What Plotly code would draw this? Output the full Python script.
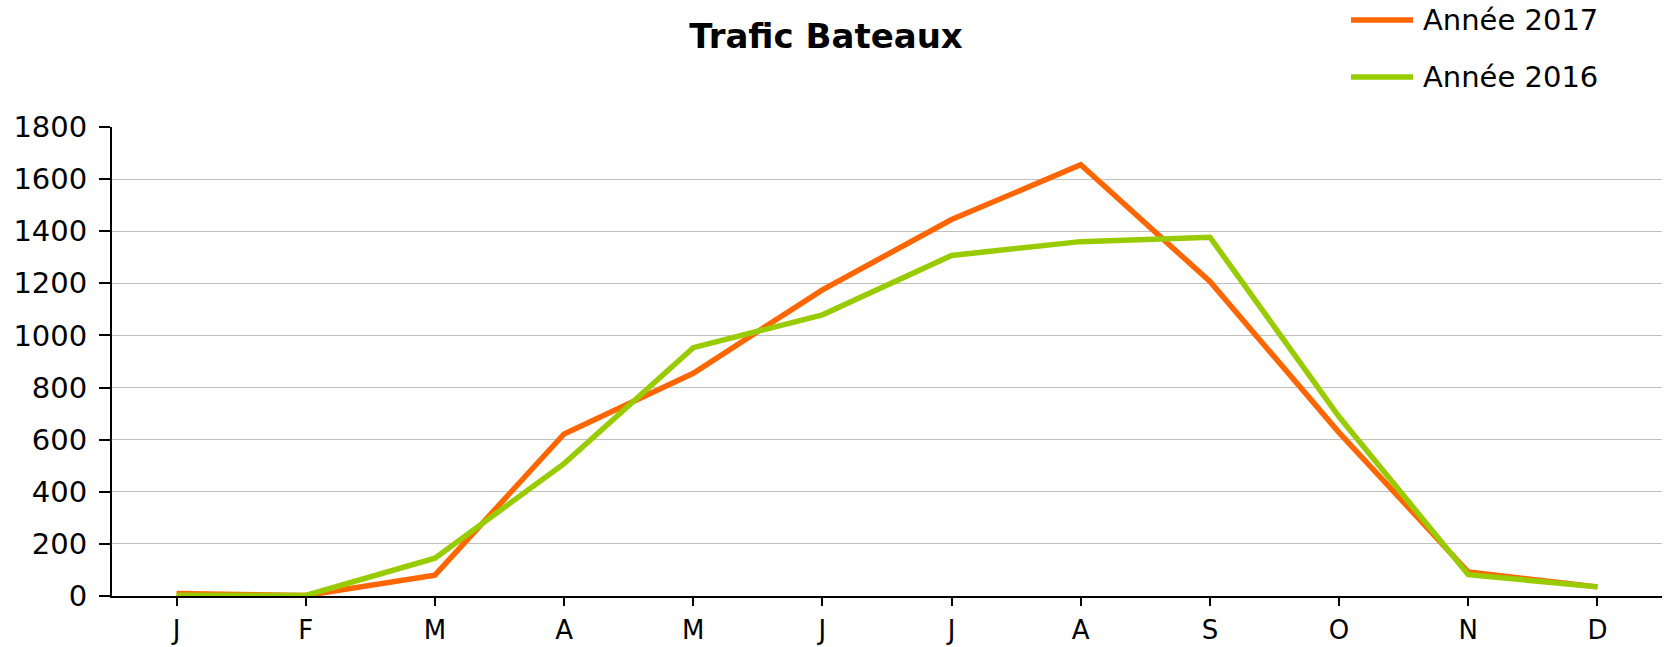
import plotly.graph_objects as go

months = ["J", "F", "M", "A", "M", "J", "J", "A", "S", "O", "N", "D"]
x_idx = list(range(12))
trafic_2017 = [10, 2, 80, 622, 855, 1175, 1445, 1655, 1207, 627, 92, 35]
trafic_2016 = [3, 2, 145, 508, 953, 1079, 1307, 1360, 1377, 688, 82, 35]
y_ticks = [0, 200, 400, 600, 800, 1000, 1200, 1400, 1600, 1800]

ORANGE = "#FF6600"
GREEN = "#99CC00"
FONT = "DejaVu Sans"

FIG_W, FIG_H = 1665, 647
M_L, M_R, M_T, M_B = 112, 3, 127, 51

fig = go.Figure()
fig.add_trace(go.Scatter(x=x_idx, y=trafic_2017, mode="lines", name="Année 2017",
                         line=dict(color=ORANGE, width=5.5), showlegend=False))
fig.add_trace(go.Scatter(x=x_idx, y=trafic_2016, mode="lines", name="Année 2016",
                         line=dict(color=GREEN, width=5.5), showlegend=False))

# custom legend (line samples + text), positioned in page pixels
PW = FIG_W - M_L - M_R
PH = FIG_H - M_T - M_B
def px(xp): return (xp - M_L) / PW
def py(yp): return (FIG_H - M_B - yp) / PH
for name, col, ypix in [("Année 2017", ORANGE, 20), ("Année 2016", GREEN, 77)]:
    fig.add_shape(type="line", xref="paper", yref="paper",
                  x0=px(1351), x1=px(1413), y0=py(ypix), y1=py(ypix),
                  line=dict(color=col, width=5.5))
    fig.add_annotation(xref="paper", yref="paper", x=px(1421), y=py(ypix),
                       text=name, showarrow=False, xanchor="left", yanchor="middle",
                       font=dict(family=FONT, size=29, color="black"))

fig.update_layout(
    width=FIG_W, height=FIG_H,
    margin=dict(l=M_L, r=M_R, t=M_T, b=M_B, autoexpand=False),
    paper_bgcolor="white", plot_bgcolor="white",
    title=dict(text="<b>Trafic Bateaux</b>", x=826 / FIG_W, xref="container", xanchor="center",
               y=1 - 36 / FIG_H, yref="container", yanchor="middle",
               font=dict(family=FONT, size=34, color="black")),
    font=dict(family=FONT, size=28, color="black"),
)
fig.update_xaxes(
    range=[-0.5, 11.5], automargin=False,
    tickmode="array", tickvals=x_idx, ticktext=months,
    ticks="outside", ticklen=8, tickwidth=2, tickcolor="black",
    tickson="boundaries",
    showline=True, linecolor="black", linewidth=2,
    showgrid=False, zeroline=False,
    ticklabelstandoff=2,
    tickfont=dict(family=FONT, size=26, color="black"),
)
fig.update_yaxes(
    range=[0, 1800], automargin=False,
    tickmode="array", tickvals=y_ticks,
    ticks="outside", ticklen=11, tickwidth=2, tickcolor="black",
    showline=True, linecolor="black", linewidth=2,
    showgrid=True, gridcolor="#C0C0C0", gridwidth=1.3,
    zeroline=False,
    ticklabelstandoff=6,
    tickfont=dict(family=FONT, size=29, color="black"),
)

fig.write_html("out.html", config={"displayModeBar": False},
               post_script="document.body.style.margin='0';document.body.style.overflow='hidden';")
